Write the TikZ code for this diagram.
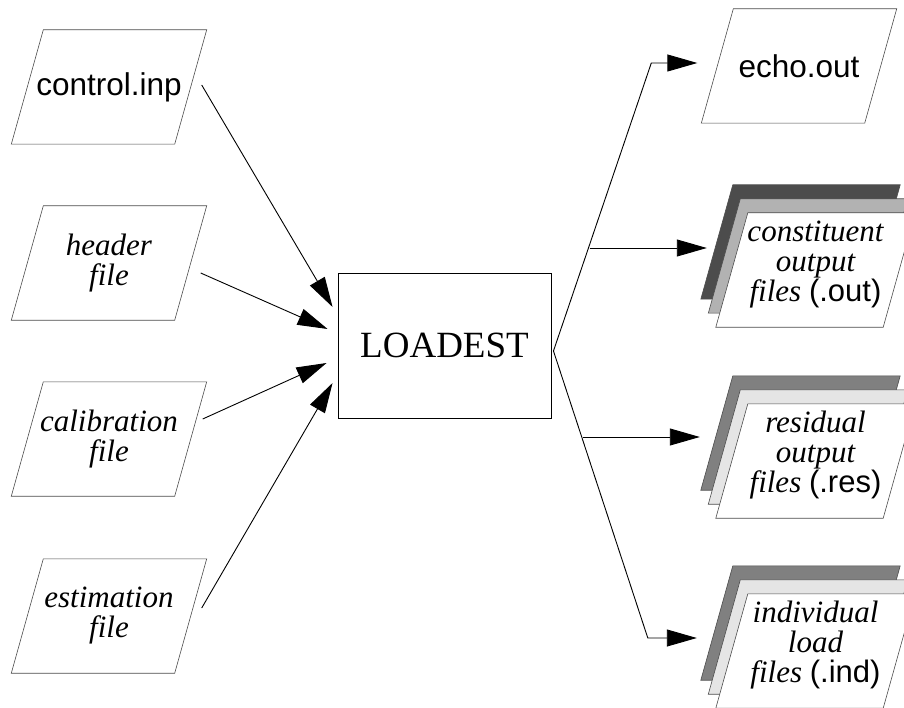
\documentclass[tikz,border=0pt]{standalone}
\usepackage{fontspec}
\setmainfont{Liberation Serif}
\setsansfont{Liberation Sans}
\newfontfamily\itserif{Liberation Serif Italic}
\usetikzlibrary{arrows.meta,backgrounds,positioning}

\tikzset{
  filebox/.style={minimum width=163pt, minimum height=114pt, inner sep=0pt, align=center},
  frontbox/.style={filebox, minimum width=167pt, text depth=18pt},
  sheet/.style={draw=black!70, line width=0.6pt},
  lbl/.style={font=\itserif\fontsize{31}{30}\selectfont},
  sflbl/.style={font=\sffamily\fontsize{31.5}{31.5}\selectfont},
  progbox/.style={draw, line width=0.9pt, minimum width=213pt, minimum height=145pt,
    inner sep=0pt, font=\fontsize{37}{37}\selectfont},
  feed/.style={-{Triangle[length=30pt,width=17pt]}, line width=0.9pt},
}
% slanted file outline round a node: fill, node, x offset, y offset
\newcommand{\pgram}[4]{%
  \filldraw[sheet, fill=#1] ([shift={(#3-16,#4)}]#2.south west) -- ([shift={(#3-16,#4)}]#2.south east)
    -- ([shift={(#3+16,#4)}]#2.north east) -- ([shift={(#3+16,#4)}]#2.north west) -- cycle;}

\begin{document}
\begin{tikzpicture}[x=1pt,y=1pt]
\useasboundingbox (0,0) rectangle (904,-708);

% input files
\node[filebox,sflbl] (ctrl) at (109,-87) {control.inp};
\node[filebox,lbl] (hdr) at (109,-263) {header\\file};
\node[filebox,lbl] (cal) at (109,-439) {calibration\\file};
\node[filebox,lbl] (est) at (109,-616) {estimation\\file};

% the program
\node[progbox] (box) at (444.5,-345.5) {LOADEST};

% output files
\node[filebox,sflbl] (echo) at (799,-66) {echo.out};
\node[frontbox,lbl] (outf) at (815.5,-270) {constituent\\output\\files \textsf{(.out)}};
\node[frontbox,lbl] (resf) at (815.5,-461) {residual\\output\\files \textsf{(.res)}};
\node[frontbox,lbl] (indf) at (815.5,-651) {individual\\load\\files \textsf{(.ind)}};

\begin{scope}[on background layer]
\foreach \f in {ctrl,hdr,cal,est,echo} \pgram{white}{\f}{0}{0};
\pgram{black!70}{outf}{-15}{28} \pgram{black!30}{outf}{-7.5}{14} \pgram{white}{outf}{0}{0}
\pgram{black!50}{resf}{-15}{28} \pgram{black!10}{resf}{-7.5}{14} \pgram{white}{resf}{0}{0}
\pgram{black!50}{indf}{-15}{28} \pgram{black!10}{indf}{-7.5}{14} \pgram{white}{indf}{0}{0}
\end{scope}

% inputs into LOADEST
\draw[feed] ([xshift=11pt,yshift=2pt]ctrl.east) -- ([xshift=-5pt,yshift=38.5pt]box.west);
\draw[feed] ([xshift=10pt,yshift=-10pt]hdr.east) -- ([xshift=-10pt,yshift=16.5pt]box.west);
\draw[feed] ([xshift=12pt,yshift=20pt]cal.east) -- ([xshift=-11pt,yshift=-17.5pt]box.west);
\draw[feed] ([xshift=11pt,yshift=8pt]est.east) -- ([xshift=-5pt,yshift=-37.5pt]box.west);

% LOADEST out to the files
\draw[feed] ([xshift=2pt,yshift=-5.5pt]box.east) -- ([xshift=-66pt,yshift=3pt]echo.west)
  -- ([xshift=-20pt,yshift=3pt]echo.west);
\draw[feed] ([xshift=2pt,yshift=-5.5pt]box.east) -- ([xshift=-84pt,yshift=13pt]indf.west)
  -- ([xshift=-35pt,yshift=13pt]indf.west);
\draw[feed] ([xshift=-142pt,yshift=22pt]outf.west) -- ([xshift=-25pt,yshift=22pt]outf.west);
\draw[feed] ([xshift=-149pt,yshift=24pt]resf.west) -- ([xshift=-32pt,yshift=24pt]resf.west);
\end{tikzpicture}
\end{document}
